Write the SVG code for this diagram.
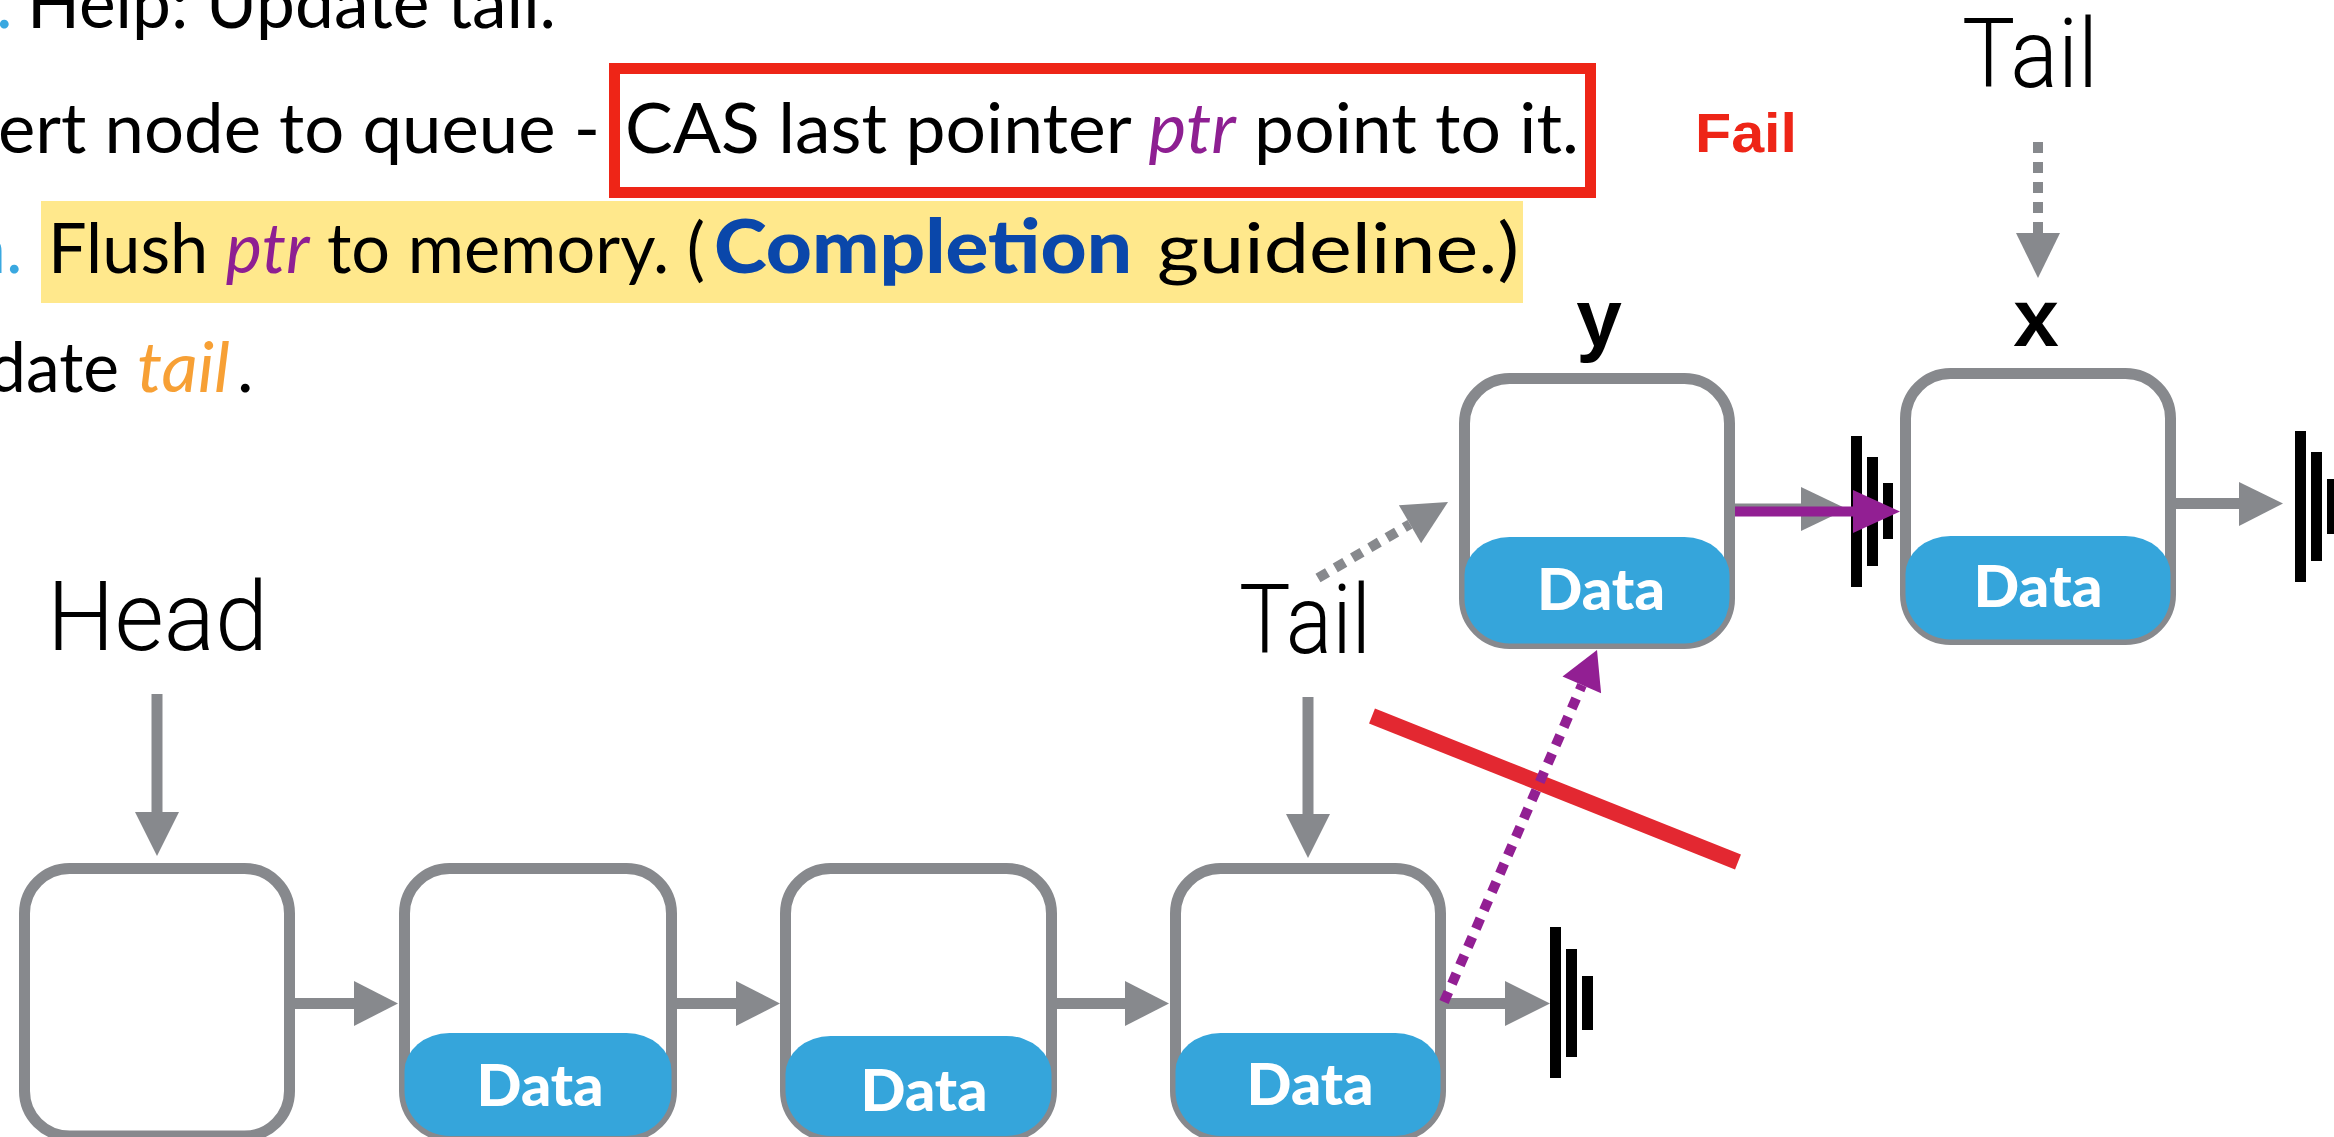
<svg xmlns="http://www.w3.org/2000/svg" width="2334" height="1137" viewBox="0 0 2334 1137">
  <style>
    .body { font-family: Lato, "Noto Sans", sans-serif; font-size: 70px; fill: #000; }
    .blue { fill: #3AA8E0; }
    .ptr { fill: #8E1F92; font-style: italic; }
    .tail { fill: #F7A035; font-style: italic; }
    .comp { fill: #0A47AA; font-weight: 900; font-size: 74px; }
    .lbl { font-family: Roboto, "Liberation Sans", sans-serif; font-weight: 300; font-size: 97px; fill: #000; }
    .var { font-family: "Liberation Sans", Arial, sans-serif; font-weight: 700; font-size: 82px; fill: #000; text-anchor: middle; }
    .fail { font-family: "Liberation Sans", Arial, sans-serif; font-weight: 700; font-size: 56px; fill: #EE2517; }
    .node { fill: #fff; stroke: #87898D; stroke-width: 11; }
    .pill { fill: #35A5DB; }
    .data { font-family: Lato, "Liberation Sans", sans-serif; font-weight: 900; font-size: 58px; fill: #fff; text-anchor: middle; }
    .gl { stroke: #87898D; stroke-width: 11; fill: none; }
    .gh { fill: #87898D; }
    .gd { stroke: #87898D; stroke-width: 10; fill: none; stroke-dasharray: 11 9; }
    .pd { stroke: #921F93; stroke-width: 10; fill: none; stroke-dasharray: 11 9; }
    .pl { stroke: #921F93; stroke-width: 10; fill: none; }
    .ph { fill: #921F93; }
    .bar { fill: #000; }
  </style>

  <!-- text block -->
  <g id="text-block">
    <rect x="41" y="201" width="1482" height="102" fill="#FFE88C"/>
    <rect x="614.5" y="68.5" width="976" height="124" fill="none" stroke="#EE2517" stroke-width="11"/>
    <text class="body blue" x="-4" y="28">.</text>
    <text class="body" x="27" y="28" textLength="529" lengthAdjust="spacingAndGlyphs">Help: Update tail.</text>
    <text class="body" x="-2" y="153" textLength="602" lengthAdjust="spacingAndGlyphs">ert node to queue -</text>
    <text class="body" x="625" y="153" textLength="954" lengthAdjust="spacingAndGlyphs">CAS last pointer <tspan class="ptr">ptr</tspan> point to it.</text>
    <text class="body blue" x="-33" y="273">n.</text>
    <text class="body" x="48" y="273" textLength="657" lengthAdjust="spacingAndGlyphs">Flush <tspan class="ptr">ptr</tspan> to memory. (</text>
    <text class="body comp" x="714" y="273" textLength="418" lengthAdjust="spacingAndGlyphs">Completion</text>
    <text class="body" x="1157" y="273" textLength="362" lengthAdjust="spacingAndGlyphs">guideline.)</text>
    <text class="body" x="-12" y="392" textLength="131" lengthAdjust="spacingAndGlyphs">date</text>
    <text class="body tail" x="137" y="392" textLength="93" lengthAdjust="spacingAndGlyphs">tail</text>
    <text class="body" x="237" y="392">.</text>
    <text class="fail" x="1695" y="152" textLength="102" lengthAdjust="spacingAndGlyphs">Fail</text>
  </g>

  <!-- labels -->
  <g id="labels">
    <text class="lbl" x="47" y="650" textLength="221" lengthAdjust="spacingAndGlyphs">Head</text>
    <text class="lbl" x="1239" y="653" textLength="132" lengthAdjust="spacingAndGlyphs">Tail</text>
    <text class="lbl" x="1962" y="87" textLength="136" lengthAdjust="spacingAndGlyphs">Tail</text>
    <text class="var" x="1599" y="346">y</text>
    <text class="var" x="2036" y="346">x</text>
  </g>

  <!-- nodes -->
  <g id="node-head">
    <rect class="node" x="24.5" y="868.5" width="265" height="267.5" rx="45"/>
  </g>
  <g id="node-2">
    <rect class="node" x="404.5" y="868.5" width="267" height="267.5" rx="45"/>
    <path class="pill" d="M404.5,1071 A45 38 0 0 1 449.5,1033 H626.5 A45 38 0 0 1 671.5,1071 V1091 A45 45 0 0 1 626.5,1136 H449.5 A45 45 0 0 1 404.5,1091 Z"/>
    <text class="data" x="540" y="1106" textLength="127" lengthAdjust="spacingAndGlyphs">Data</text>
  </g>
  <g id="node-3">
    <rect class="node" x="785.5" y="868.5" width="266" height="267.5" rx="45"/>
    <path class="pill" d="M785.5,1074 A45 38 0 0 1 830.5,1036 H1006.5 A45 38 0 0 1 1051.5,1074 V1091 A45 45 0 0 1 1006.5,1136 H830.5 A45 45 0 0 1 785.5,1091 Z"/>
    <text class="data" x="924" y="1111" textLength="127" lengthAdjust="spacingAndGlyphs">Data</text>
  </g>
  <g id="node-4">
    <rect class="node" x="1175.5" y="868.5" width="265" height="267.5" rx="45"/>
    <path class="pill" d="M1175.5,1071 A45 38 0 0 1 1220.5,1033 H1395.5 A45 38 0 0 1 1440.5,1071 V1091 A45 45 0 0 1 1395.5,1136 H1220.5 A45 45 0 0 1 1175.5,1091 Z"/>
    <text class="data" x="1310" y="1105" textLength="127" lengthAdjust="spacingAndGlyphs">Data</text>
  </g>
  <g id="node-y">
    <rect class="node" x="1464.5" y="378.5" width="265" height="265" rx="45"/>
    <path class="pill" d="M1464.5,575 A45 38 0 0 1 1509.5,537 H1684.5 A45 38 0 0 1 1729.5,575 V598.5 A45 45 0 0 1 1684.5,643.5 H1509.5 A45 45 0 0 1 1464.5,598.5 Z"/>
    <text class="data" x="1601" y="610" textLength="128" lengthAdjust="spacingAndGlyphs">Data</text>
  </g>
  <g id="node-x">
    <rect class="node" x="1905.5" y="373.5" width="265" height="266" rx="45"/>
    <path class="pill" d="M1905.5,574 A45 38 0 0 1 1950.5,536 H2125.5 A45 38 0 0 1 2170.5,574 V594.5 A45 45 0 0 1 2125.5,639.5 H1950.5 A45 45 0 0 1 1905.5,594.5 Z"/>
    <text class="data" x="2038" y="607" textLength="129" lengthAdjust="spacingAndGlyphs">Data</text>
  </g>

  <!-- connectors -->
  <g id="connectors">
    <!-- Head / Tail pointers -->
    <line class="gl" x1="157" y1="694" x2="157" y2="814"/>
    <polygon class="gh" points="135,812 179,812 157,856"/>
    <line class="gl" x1="1308" y1="697" x2="1308" y2="816"/>
    <polygon class="gh" points="1286,814 1330,814 1308,858"/>
    <!-- next pointers, bottom row -->
    <line class="gl" x1="295" y1="1003.5" x2="356" y2="1003.5"/>
    <polygon class="gh" points="354,981 354,1026 398,1003.5"/>
    <line class="gl" x1="677" y1="1003.5" x2="738" y2="1003.5"/>
    <polygon class="gh" points="736,981 736,1026 780,1003.5"/>
    <line class="gl" x1="1057" y1="1003.5" x2="1127" y2="1003.5"/>
    <polygon class="gh" points="1125,981 1125,1026 1169,1003.5"/>
    <line class="gl" x1="1446" y1="1003.5" x2="1507" y2="1003.5"/>
    <polygon class="gh" points="1505,981 1505,1026 1550,1003.5"/>
    <!-- upper row -->
    <line class="gl" x1="1735" y1="509" x2="1803" y2="509"/>
    <polygon class="gh" points="1801,487 1801,531 1847,509"/>
    <line class="gl" x1="2176" y1="503.5" x2="2241" y2="503.5"/>
    <polygon class="gh" points="2239,482 2239,526 2283,503.5"/>
    <!-- dashed tail pointers -->
    <line class="gd" x1="2038" y1="142" x2="2038" y2="233"/>
    <polygon class="gh" points="2016,233 2060,233 2038,278"/>
    <line class="gd" x1="1318" y1="578" x2="1410" y2="524.2"/>
    <polygon class="gh" points="1421.1,543.2 1398.9,505.2 1448,502"/>
    <!-- null terminators -->
    <rect class="bar" x="1550" y="927" width="11" height="151"/>
    <rect class="bar" x="1566" y="949" width="11" height="108"/>
    <rect class="bar" x="1582" y="976" width="11" height="54"/>
    <rect class="bar" x="1851" y="436" width="11" height="151"/>
    <rect class="bar" x="1867" y="457" width="11" height="109"/>
    <rect class="bar" x="1883" y="483" width="10" height="56"/>
    <rect class="bar" x="2295" y="431" width="11" height="151"/>
    <rect class="bar" x="2311" y="452" width="11" height="109"/>
    <rect class="bar" x="2327" y="479" width="11" height="55"/>
    <!-- failed CAS strike -->
    <line x1="1372" y1="716" x2="1738" y2="862" stroke="#E32831" stroke-width="16"/>
    <!-- purple pointers -->
    <line class="pd" x1="1444" y1="1002" x2="1582" y2="685"/>
    <polygon class="ph" points="1601.1,693.2 1562.5,676.4 1597,650"/>
    <line class="pl" x1="1735" y1="511.5" x2="1855" y2="511.5"/>
    <polygon class="ph" points="1853,490 1853,533 1900,511.5"/>
  </g>
</svg>
